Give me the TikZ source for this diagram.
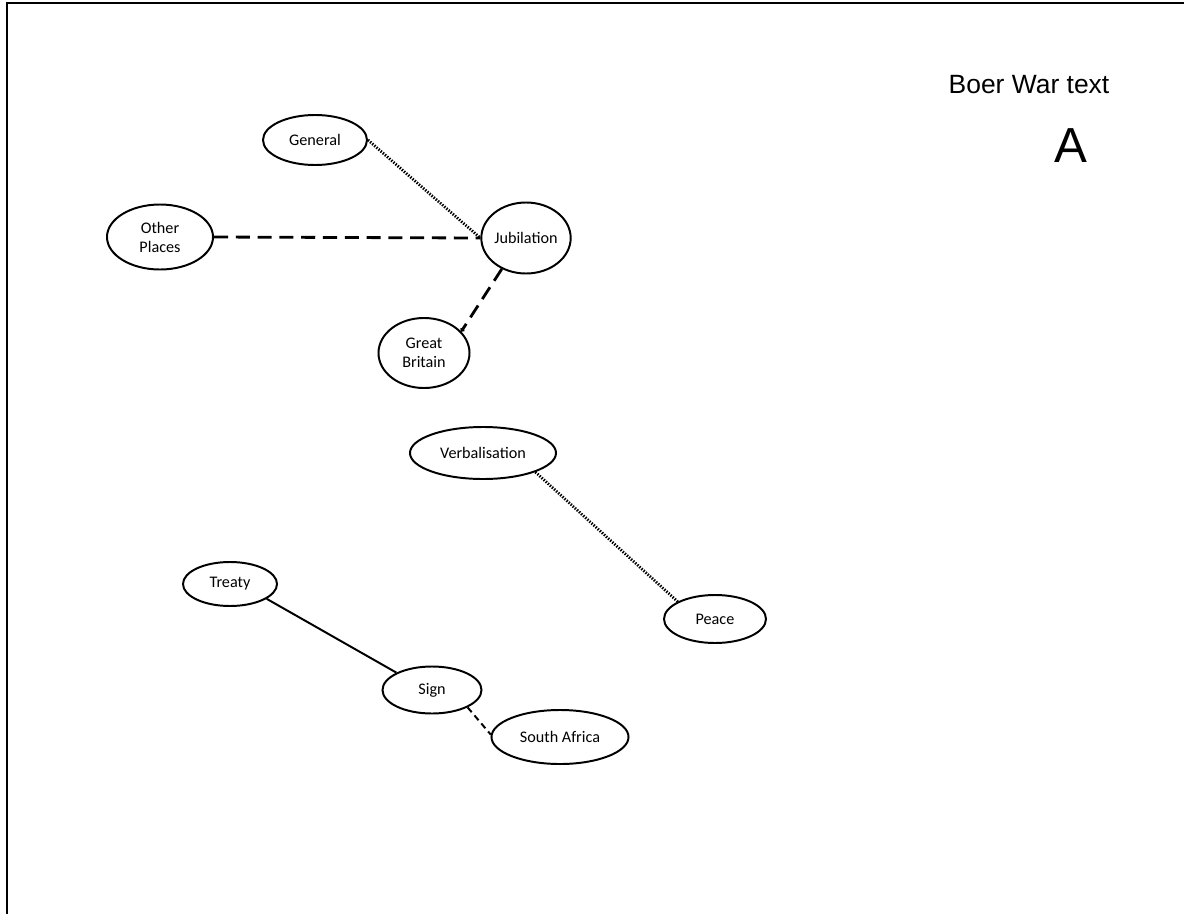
\documentclass[tikz,border=0pt]{standalone}
\usepackage{fontspec}
\setmainfont{Carlito}
\newfontfamily\titlefont{Liberation Sans}
\usetikzlibrary{shapes.geometric,arrows.meta}

\begin{document}
\begin{tikzpicture}[x=0.025cm, y=-0.025cm,
    concept/.style={draw, ellipse, line width=1.4pt, inner sep=0pt, align=center,
        font=\fontsize{11.5}{13.5}\selectfont},
    bigdash/.style={line width=2pt, dash pattern=on 10pt off 5.5pt},
    smalldash/.style={line width=1.4pt, dash pattern=on 4.5pt off 3pt},
    dots/.style={line width=2pt, dash pattern=on 1pt off 1pt}]
    \useasboundingbox (0,0) rectangle (1184,914);
    \draw [line width=1.4pt] (7,914) -- (7,3) -- (1184,3);

    \node [anchor=base, font=\titlefont\fontsize{18.8}{22}\selectfont] (title) at (1029,93) {Boer War text};
    \node [anchor=base, font=\titlefont\fontsize{35}{40}\selectfont] (letter) at (1071,162) {A};

    \node [concept, minimum width=2.6cm, minimum height=1.25cm] (general) at (315,140) {General};
    \node [concept, minimum width=2.65cm, minimum height=1.625cm] (places) at (160,237) {Other\\Places};
    \node [concept, minimum width=2.2cm, minimum height=1.775cm] (jubilation) at (526,238) {Jubilation};
    \node [concept, minimum width=2.275cm, minimum height=1.75cm] (britain) at (424,353) {Great\\Britain};
    \node [concept, minimum width=3.65cm, minimum height=1.3cm] (verbal) at (483,453) {Verbalisation};
    \node [concept, minimum width=2.55cm, minimum height=1.2cm] (peace) at (715,619) {Peace};
    \node [concept, minimum width=2.35cm, minimum height=1.1cm] (treaty) at (230,584) {Treaty};
    \node [concept, minimum width=2.475cm, minimum height=1.175cm] (sign) at (432,690) {Sign};
    \node [concept, minimum width=3.425cm, minimum height=1.35cm] (safrica) at (560,737) {South Africa};

    \draw [dots] (general.east) -- (jubilation.west);
    \draw [bigdash] (places.east) -- (jubilation.west);
    \draw [bigdash, -{Circle[length=3pt]}] (jubilation.-128) -- (britain.30);
    \draw [dots] (verbal.-20) -- (peace.155);
    \draw [line width=1.4pt] (treaty.-22) -- (sign.154);
    \draw [smalldash] (sign.-26) -- (safrica.178);
\end{tikzpicture}
\end{document}
